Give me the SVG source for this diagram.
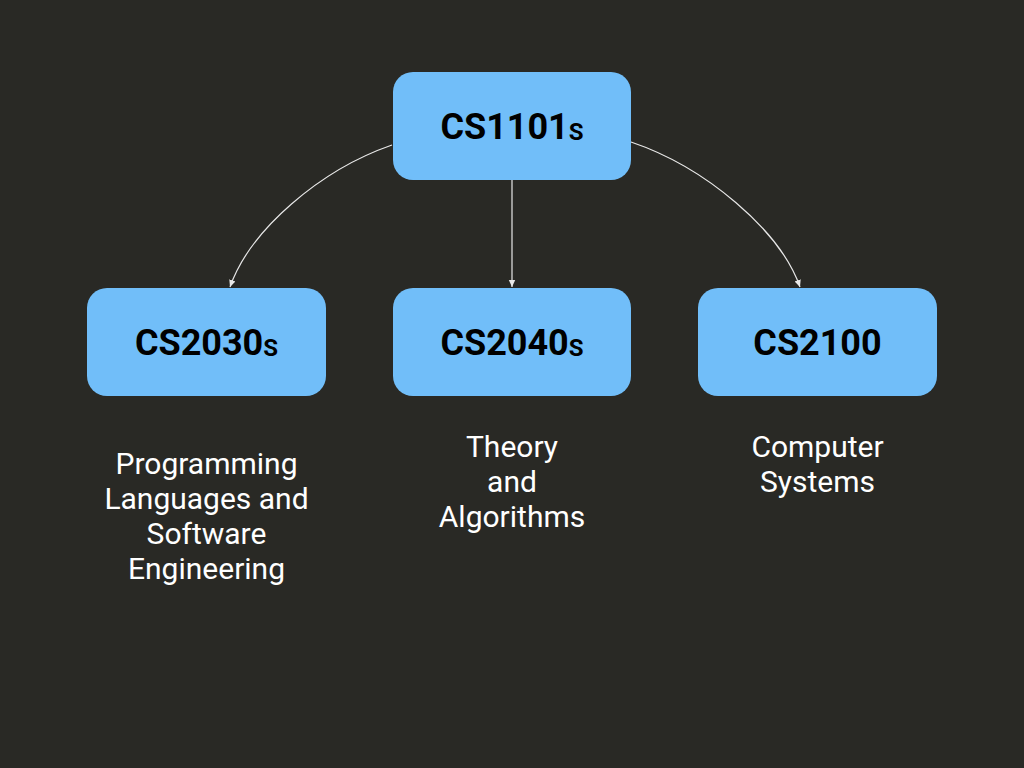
<svg xmlns="http://www.w3.org/2000/svg" width="1024" height="768" viewBox="0 0 1024 768">
<defs>
<marker id="arr" markerWidth="8" markerHeight="8" refX="7" refY="4" orient="auto" markerUnits="userSpaceOnUse">
<path d="M0,0.8 L7,4 L0,7.2 Z" fill="#e8e8e8"/>
</marker>
<style>
.node{fill:#71bef9;}
.code{font-family:Roboto,"Liberation Sans",sans-serif;font-weight:bold;font-size:36px;fill:#000;text-anchor:middle;}
.sub{font-size:24px;}
.lbl{font-family:Roboto,"Liberation Sans",sans-serif;font-size:30px;fill:#fff;text-anchor:middle;}
.edge{fill:none;stroke:#e8e8e8;stroke-width:1.2;marker-end:url(#arr);}
</style>
</defs>
<rect width="1024" height="768" fill="#292925"/>
<g id="connectors">
<path class="edge" d="M392,145 C320,170 250,230 230,287"/>
<path class="edge" d="M512,180 L512,287"/>
<path class="edge" d="M631,142 C705,167 780,230 800,287"/>
</g>
<g id="cs1101s">
<rect class="node" x="393" y="72" width="238" height="108" rx="20"/>
<text class="code" x="512" y="139">CS1101<tspan class="sub" dy="1">S</tspan></text>
</g>
<g id="cs2030s">
<rect class="node" x="87" y="288" width="239" height="108" rx="20"/>
<text class="code" x="206.5" y="355">CS2030<tspan class="sub" dy="1">S</tspan></text>
<text class="lbl" x="206.5" y="474">Programming</text>
<text class="lbl" x="206.5" y="509">Languages and</text>
<text class="lbl" x="206.5" y="544">Software</text>
<text class="lbl" x="206.5" y="579">Engineering</text>
</g>
<g id="cs2040s">
<rect class="node" x="393" y="288" width="238" height="108" rx="20"/>
<text class="code" x="512" y="355">CS2040<tspan class="sub" dy="1">S</tspan></text>
<text class="lbl" x="512" y="457">Theory</text>
<text class="lbl" x="512" y="492">and</text>
<text class="lbl" x="512" y="527">Algorithms</text>
</g>
<g id="cs2100">
<rect class="node" x="698" y="288" width="239" height="108" rx="20"/>
<text class="code" x="817.5" y="355">CS2100</text>
<text class="lbl" x="817.5" y="457">Computer</text>
<text class="lbl" x="817.5" y="492">Systems</text>
</g>
</svg>
